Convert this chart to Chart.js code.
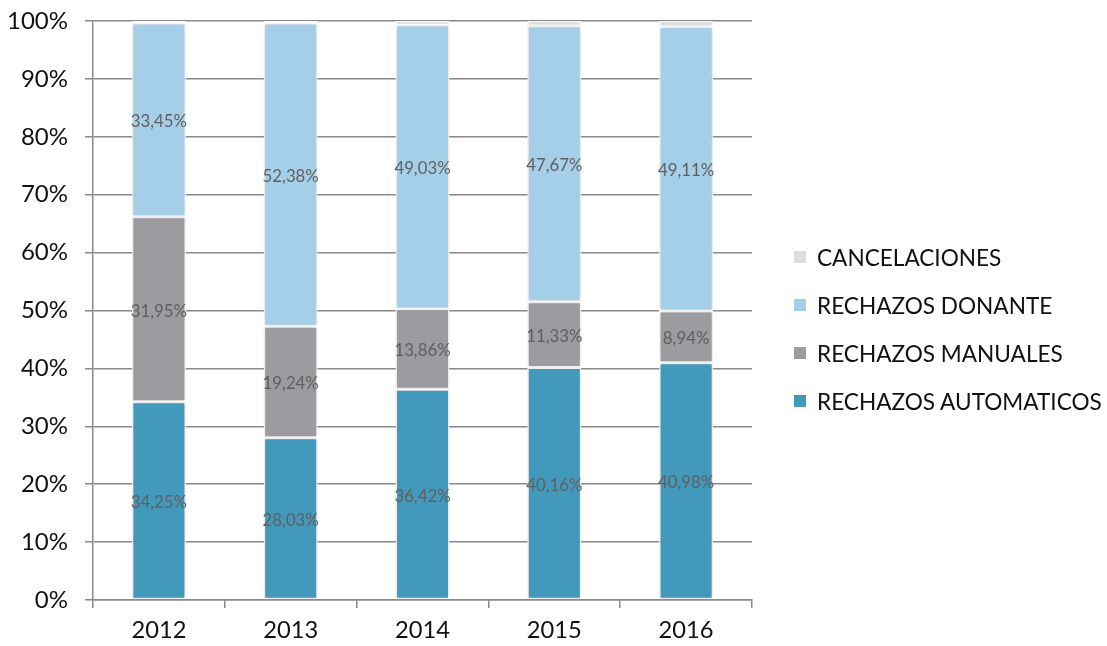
<!DOCTYPE html>
<html>
<head>
<meta charset="utf-8">
<script src="https://cdn.jsdelivr.net/npm/chart.js@4"></script>
<style>
  body { margin: 0; background: #fff; }
  #wrap { position: relative; width: 1107px; height: 646px; }
  #legend { position: absolute; left: 794px; top: 233px; font-family: Lato, 'Open Sans', sans-serif; font-size: 22.6px; color: #111; }
  #legend div { height: 48px; display: flex; align-items: center; }
  #legend span.box { display: inline-block; width: 12px; height: 12px; margin-right: 11px; }
</style>
</head>
<body>
<div id="wrap">
  <canvas id="chart" width="1107" height="646"></canvas>
  <div id="legend"></div>
</div>
<script>
// categories and series (percent of total)
const years = ['2012', '2013', '2014', '2015', '2016'];
const automaticos = [34.25, 28.03, 36.42, 40.16, 40.98];
const manuales = [31.95, 19.24, 13.86, 11.33, 8.94];
const donante = [33.45, 52.38, 49.03, 47.67, 49.11];
const cancelaciones = [0.35, 0.35, 0.69, 0.84, 0.97];

const yTicks = [0, 10, 20, 30, 40, 50, 60, 70, 80, 90, 100];

const series = [
    { label: 'RECHAZOS AUTOMATICOS', data: automaticos, color: '#4399BC', showLabel: true },
    { label: 'RECHAZOS MANUALES', data: manuales, color: '#9B9BA0', showLabel: true },
    { label: 'RECHAZOS DONANTE', data: donante, color: '#A5CFE8', showLabel: true },
    { label: 'CANCELACIONES', data: cancelaciones, color: '#DCDCDC', showLabel: false }
];

/**
 * Draws the percentage text in the middle of each segment
 */
const segmentLabels = {
    id: 'segmentLabels',
    afterDatasetsDraw(chart) {
        const ctx = chart.ctx;
        ctx.save();
        ctx.font = '16.8px Lato, "Open Sans", sans-serif';
        ctx.fillStyle = '#5f5f5f';
        ctx.textAlign = 'center';
        ctx.textBaseline = 'middle';
        chart.data.datasets.forEach((ds, i) => {
            if (!series[i].showLabel) return;
            chart.getDatasetMeta(i).data.forEach((bar, j) => {
                const txt = ds.data[j].toFixed(2).replace('.', ',') + '%';
                ctx.fillText(txt, bar.x, (bar.y + bar.base) / 2 + 2);
            });
        });
        ctx.restore();
    }
};

// soft shadow around the bars
const barShadow = {
    id: 'barShadow',
    beforeDatasetsDraw(chart) {
        const ctx = chart.ctx;
        ctx.save();
        ctx.shadowColor = 'rgba(0,0,0,0.18)';
        ctx.shadowBlur = 4;
    },
    afterDatasetsDraw(chart) {
        chart.ctx.restore();
    }
};

const ctx = document.getElementById('chart').getContext('2d');
const chart = new Chart(ctx, {
    type: 'bar',
    data: {
        labels: years,
        datasets: series.map(s => ({
            label: s.label,
            data: s.data,
            backgroundColor: s.color,
            borderColor: '#ffffff',
            borderWidth: 1.5,
            borderSkipped: false,
            categoryPercentage: 0.41,
            barPercentage: 1
        }))
    },
    options: {
        responsive: false,
        animation: false,
        layout: { padding: { top: 21, right: 355, left: 0, bottom: 0 } },
        plugins: {
            legend: { display: false },
            tooltip: { enabled: false }
        },
        scales: {
            x: {
                stacked: true,
                offset: true,
                afterFit: scale => {
                    scale.height = 46;
                    scale.paddingLeft = 0;
                    scale.paddingRight = 0;
                },
                grid: {
                    offset: true,
                    drawOnChartArea: false,
                    drawTicks: true,
                    tickLength: 8,
                    color: '#8a8a8a',
                    lineWidth: 1.5
                },
                border: { color: '#8a8a8a', width: 1.5 },
                ticks: {
                    color: '#111',
                    padding: 8,
                    font: { family: 'Lato, "Open Sans", sans-serif', size: 23.7 }
                }
            },
            y: {
                stacked: true,
                min: 0,
                max: 100,
                afterFit: scale => {
                    scale.width = 93;
                    scale.paddingTop = 0;
                    scale.paddingBottom = 0;
                },
                afterBuildTicks: scale => { scale.ticks = yTicks.map(v => ({ value: v })); },
                grid: {
                    color: '#8a8a8a',
                    lineWidth: 1.5,
                    drawTicks: true,
                    tickLength: 8
                },
                border: { color: '#8a8a8a', width: 1.5 },
                ticks: {
                    color: '#111',
                    padding: 17,
                    font: { family: 'Lato, "Open Sans", sans-serif', size: 24 },
                    callback: v => v + '%'
                }
            }
        }
    },
    plugins: [barShadow, segmentLabels]
});

// legend, listed top to bottom in reverse stacking order
const legendEl = document.getElementById('legend');
series.slice().reverse().forEach(s => {
    const row = document.createElement('div');
    row.innerHTML = '<span class="box" style="background:' + s.color + '"></span>' + s.label;
    legendEl.appendChild(row);
});
</script>
</body>
</html>
